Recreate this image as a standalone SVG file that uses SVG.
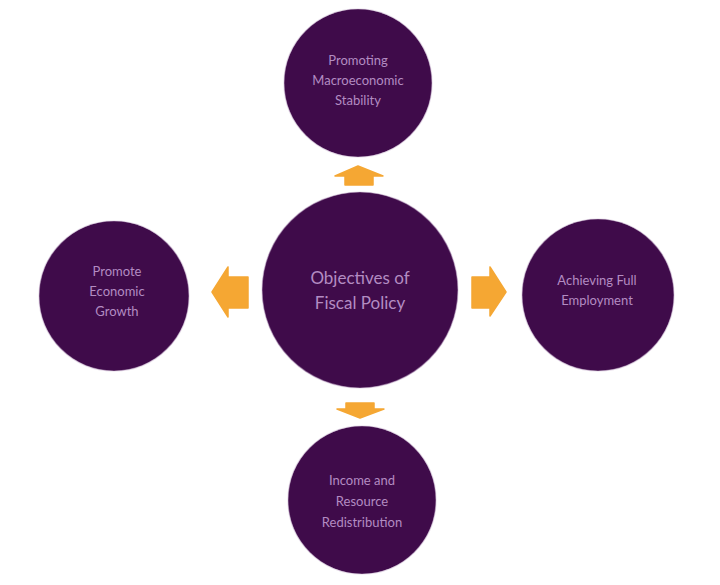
<svg xmlns="http://www.w3.org/2000/svg" width="720" height="585" viewBox="0 0 720 585">
<style>
.node circle{fill:#3f0b4a;stroke:#c9b4cf;stroke-opacity:0.5;stroke-width:1.2}
.node text{fill:#b38cc2;font-family:Lato,"Open Sans","Liberation Sans",sans-serif;text-anchor:middle;dominant-baseline:central}
.small{font-size:13px}
.big{font-size:17px}
#connectors polygon{fill:#f5a733;stroke:#f5a733;stroke-width:1.5;stroke-linejoin:round}
</style>
<rect width="720" height="585" fill="#ffffff"/>
<g id="connectors">
<polygon points="358,166 383,176 373,176 373,185 345,185 345,176 335,176"/>
<polygon points="212,292 228,267 228,277 248,277 248,308 228,308 228,317"/>
<polygon points="506,292 490,267 490,277 472,277 472,308 490,308 490,316"/>
<polygon points="360,418 384,409 374,409 374,403 346,403 346,409 337,409"/>
</g>
<g id="center" class="node">
<circle cx="360" cy="290" r="98"/>
<text class="big" x="360" y="277">Objectives of</text>
<text class="big" x="360" y="302">Fiscal Policy</text>
</g>
<g id="top" class="node">
<circle cx="358" cy="83" r="74"/>
<text class="small" x="358" y="60">Promoting</text>
<text class="small" x="358" y="80">Macroeconomic</text>
<text class="small" x="358" y="100">Stability</text>
</g>
<g id="left" class="node">
<circle cx="114" cy="296" r="75"/>
<text class="small" x="117" y="271">Promote</text>
<text class="small" x="117" y="291">Economic</text>
<text class="small" x="117" y="311">Growth</text>
</g>
<g id="right" class="node">
<circle cx="598" cy="295" r="76"/>
<text class="small" x="597" y="280">Achieving Full</text>
<text class="small" x="597" y="300">Employment</text>
</g>
<g id="bottom" class="node">
<circle cx="362" cy="500" r="74"/>
<text class="small" x="362" y="480">Income and</text>
<text class="small" x="362" y="501">Resource</text>
<text class="small" x="362" y="522">Redistribution</text>
</g>
</svg>
